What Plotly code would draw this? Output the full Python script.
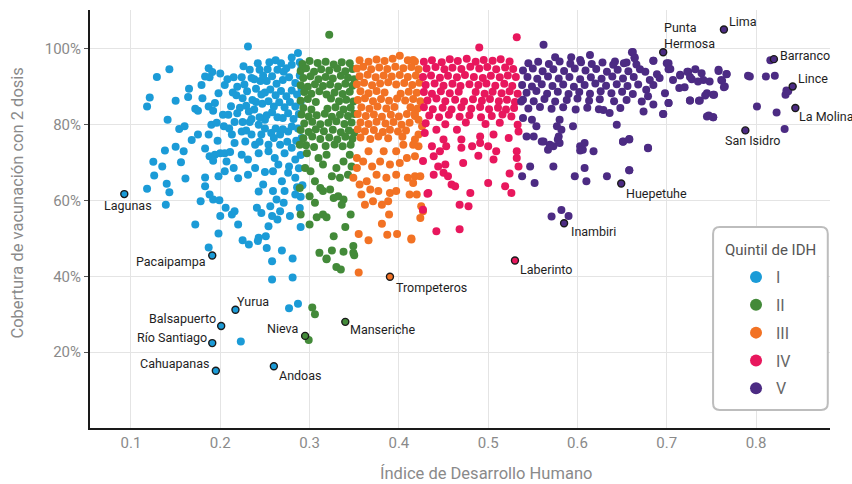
import plotly.graph_objects as go

# ---------------- data (IDH index, % vaccinated with 2 doses) ----------------
quintiles = ["I", "II", "III", "IV", "V"]
colors = ["#1b9bd7", "#438a39", "#f27224", "#e8175d", "#4c2b83"]

q1_points = [
    (0.231,100.6),(0.143,94.6),(0.129,92.6),(0.187,94.9),(0.191,93.9),(0.183,92.7),(0.188,92.5),
    (0.179,90.5),(0.165,89.5),(0.164,87.3),(0.180,87.0),(0.121,87.2),(0.118,84.8),(0.150,86.3),
    (0.172,84.2),(0.175,83.7),(0.187,84.8),(0.192,83.7),(0.194,85.7),(0.198,88.3),(0.205,90.5),
    (0.215,92.5),(0.224,92.5),(0.226,95.4),(0.242,96.2),(0.235,92.3),(0.244,94.5),(0.253,94.6),
    (0.264,94.5),(0.271,94.0),(0.280,97.7),(0.287,98.9),(0.274,94.9),(0.203,82.6),(0.209,82.6),
    (0.204,79.6),(0.216,80.7),(0.225,80.7),(0.233,80.7),(0.243,80.0),(0.250,81.3),(0.190,80.0),
    (0.141,81.3),(0.154,78.9),(0.160,79.6),(0.168,76.0),(0.175,77.4),(0.187,77.4),(0.197,75.8),
    (0.213,77.4),(0.216,75.2),(0.224,78.2),(0.235,77.4),(0.246,77.4),(0.257,77.8),(0.267,77.4),
    (0.276,78.2),(0.228,75.6),(0.239,74.7),(0.254,74.7),(0.267,74.7),(0.280,73.9),(0.150,74.2),
    (0.138,73.2),(0.159,73.0),(0.183,73.7),(0.188,71.7),(0.194,72.1),(0.200,72.5),(0.205,72.5),
    (0.211,72.8),(0.192,70.5),(0.207,70.3),(0.224,72.1),(0.231,70.8),(0.243,72.5),(0.254,73.0),
    (0.261,71.2),(0.272,72.5),(0.284,70.8),(0.125,70.2),(0.135,69.0),(0.156,70.1),(0.126,66.6),
    (0.161,65.8),(0.183,66.1),(0.198,66.4),(0.205,67.7),(0.215,68.6),(0.220,65.9),(0.231,66.8),
    (0.239,68.6),(0.250,67.5),(0.259,67.7),(0.269,65.1),(0.276,67.3),(0.284,66.0),(0.118,63.1),
    (0.140,64.4),(0.143,62.2),(0.139,58.9),(0.183,63.8),(0.188,61.6),(0.192,60.3),(0.199,60.1),
    (0.178,59.8),(0.206,58.1),(0.213,56.3),(0.216,57.2),(0.200,55.9),(0.172,53.7),(0.220,53.7),
    (0.243,62.4),(0.241,58.1),(0.246,56.7),(0.256,58.5),(0.263,60.3),(0.271,59.4),(0.267,57.2),
    (0.258,55.9),(0.264,55.0),(0.278,55.9),(0.254,53.2),(0.251,50.6),(0.243,50.2),(0.242,49.3),
    (0.198,51.3),(0.225,49.5),(0.232,48.4),(0.187,47.6),(0.252,47.5),(0.258,44.0),(0.269,46.8),
    (0.281,44.7),(0.258,39.2),(0.281,39.7),(0.248,64.2),(0.259,62.5),(0.284,61.6),(0.272,62.5),
    (0.252,91.5),(0.258,92.8),(0.263,90.8),(0.270,91.8),(0.277,92.5),(0.284,91.0),(0.289,93.0),
    (0.250,88.5),(0.256,89.3),(0.262,87.8),(0.268,88.9),(0.274,87.5),(0.280,89.0),(0.286,88.0),
    (0.291,89.5),(0.247,85.5),(0.254,86.2),(0.260,84.8),(0.266,85.9),(0.272,84.6),(0.278,86.0),
    (0.284,84.8),(0.290,86.0),(0.252,82.5),(0.258,83.3),(0.264,82.0),(0.270,81.8),(0.276,83.0),
    (0.282,81.5),(0.288,82.8),(0.262,79.0),(0.270,78.8),(0.280,79.5),(0.287,79.0),(0.291,76.5),
    (0.285,75.8),(0.275,75.5),(0.230,88.8),(0.236,86.5),(0.240,89.5),(0.229,85.0),(0.218,87.8),
    (0.222,84.5),(0.212,84.9),(0.245,91.5),(0.238,84.0),(0.244,82.0),(0.290,72.0),(0.288,68.5),
    (0.292,64.0),(0.289,58.0),(0.290,53.0),(0.289,96.5),(0.280,95.8),(0.291,95.0),(0.277,31.6),
    (0.287,32.8),(0.223,22.8),(0.200,93.5),(0.208,92.0),(0.219,90.0),(0.227,90.6),(0.233,94.5),
    (0.238,92.0),(0.248,93.0),(0.255,96.5),(0.262,97.0),(0.268,96.2),(0.214,88.5),(0.225,87.0),
    (0.232,83.5),(0.246,88.0),(0.240,86.0),(0.235,81.5),(0.219,83.0),(0.196,80.5),(0.210,79.0),
    (0.229,78.5),(0.250,79.0),(0.244,75.5),(0.260,76.5),(0.265,69.5),(0.277,69.0),(0.290,61.0),
    (0.286,63.5),
]

q2_points = [
    (0.322,103.7),
    (0.292,96.0),(0.300,96.8),(0.309,96.3),(0.318,96.6),(0.327,95.9),(0.336,96.5),(0.345,96.2),
    (0.290,94.2),(0.296,94.9),(0.305,94.0),(0.313,94.6),(0.322,94.3),(0.331,94.8),(0.340,94.1),(0.348,94.7),
    (0.293,92.3),(0.301,92.8),(0.310,92.0),(0.318,92.6),(0.326,92.2),(0.335,92.9),(0.343,92.4),(0.350,92.0),
    (0.290,90.4),(0.298,90.0),(0.306,90.7),(0.315,90.2),(0.323,90.6),(0.332,90.1),(0.340,90.8),(0.348,90.3),
    (0.294,88.6),(0.302,88.2),(0.311,88.8),(0.319,88.0),(0.328,88.5),(0.337,88.1),(0.345,88.7),
    (0.290,86.3),(0.298,86.8),(0.307,86.0),(0.324,86.9),(0.333,86.2),(0.341,86.6),(0.349,86.1),
    (0.293,84.4),(0.302,84.0),(0.320,84.2),(0.329,84.6),(0.338,84.0),(0.346,84.5),
    (0.291,82.7),(0.299,82.2),(0.308,82.5),(0.317,82.9),(0.325,82.1),(0.334,82.6),(0.343,82.3),(0.350,82.8),
    (0.294,80.3),(0.303,80.8),(0.312,80.1),(0.321,80.5),(0.330,80.9),(0.339,80.2),(0.347,80.6),
    (0.290,78.6),(0.299,78.1),(0.307,78.8),(0.316,78.3),(0.326,78.7),(0.335,78.0),(0.344,78.5),(0.350,77.9),
    (0.293,76.4),(0.303,76.9),(0.312,76.2),(0.322,76.6),(0.331,76.1),(0.340,76.8),(0.348,76.3),
    (0.296,74.6),(0.305,74.1),(0.318,74.4),(0.328,74.8),(0.337,74.3),(0.346,74.7),
    (0.289,74.7),(0.295,68.6),(0.289,63.3),(0.301,67.7),(0.306,65.1),(0.312,63.3),(0.300,61.1),
    (0.315,62.5),(0.306,59.4),(0.323,62.9),(0.327,60.7),(0.332,61.1),(0.338,60.3),(0.336,58.9),
    (0.325,66.4),(0.334,66.0),(0.343,66.8),(0.347,69.0),(0.315,69.5),(0.330,68.6),(0.338,70.3),
    (0.345,72.1),(0.319,72.1),(0.310,71.2),(0.297,72.5),(0.290,56.3),(0.300,53.7),(0.308,55.6),
    (0.315,56.3),(0.319,55.6),(0.346,56.3),(0.327,50.6),(0.340,53.0),(0.349,48.0),(0.349,46.2),
    (0.311,46.2),(0.325,46.8),(0.338,46.5),(0.319,44.5),(0.330,42.5),(0.335,41.8),(0.350,45.6),
    (0.319,44.7),(0.303,31.8),(0.306,30.0),(0.299,23.2),
]

q3_points = [
    (0.356,97.0),(0.366,96.6),(0.375,97.2),(0.384,96.8),(0.393,97.4),(0.401,98.2),(0.410,97.0),(0.418,96.7),
    (0.353,94.8),(0.360,95.3),(0.369,94.6),(0.378,95.1),(0.387,94.7),(0.396,95.3),(0.405,94.9),(0.414,95.2),(0.422,94.6),
    (0.356,92.8),(0.365,93.2),(0.374,92.5),(0.383,93.0),(0.392,92.7),(0.401,93.1),(0.410,92.6),(0.419,93.0),
    (0.353,90.7),(0.361,91.1),(0.370,90.4),(0.379,90.9),(0.388,91.2),(0.397,90.6),(0.406,91.0),(0.415,90.5),(0.423,91.1),
    (0.357,88.8),(0.366,88.3),(0.375,88.9),(0.384,88.5),(0.402,88.2),(0.411,88.7),(0.420,88.4),
    (0.354,86.5),(0.362,87.0),(0.371,86.2),(0.380,86.8),(0.389,86.3),(0.398,86.9),(0.407,86.4),(0.416,86.8),(0.424,86.2),
    (0.358,84.6),(0.367,84.2),(0.376,84.8),(0.386,84.3),(0.395,84.7),(0.413,84.6),(0.421,84.3),
    (0.354,82.8),(0.363,82.3),(0.372,82.7),(0.381,82.1),(0.391,82.6),(0.400,82.2),(0.409,82.8),(0.418,82.3),
    (0.357,80.6),(0.366,80.2),(0.375,80.8),(0.385,80.3),(0.394,80.7),(0.403,80.0),(0.412,80.5),
    (0.354,78.8),(0.362,78.3),(0.372,78.6),(0.382,78.1),(0.390,78.7),(0.399,78.2),(0.408,78.5),
    (0.357,76.6),(0.368,76.2),(0.377,76.9),(0.388,76.4),(0.404,76.8),
    (0.416,97.1),(0.418,83.1),(0.422,81.3),(0.426,79.6),(0.418,76.1),(0.422,74.3),(0.418,71.7),
    (0.418,66.4),(0.424,66.4),(0.416,64.6),(0.420,61.6),(0.425,58.5),(0.427,57.2),(0.424,55.4),
    (0.414,49.7),(0.349,66.0),(0.353,68.6),(0.356,64.2),(0.364,65.1),(0.358,61.6),(0.368,62.9),
    (0.362,58.9),(0.371,59.8),(0.377,62.5),(0.381,58.9),(0.390,62.0),(0.397,62.5),(0.388,59.8),
    (0.410,66.0),(0.412,61.6),(0.389,56.3),(0.381,53.9),(0.355,51.2),(0.366,49.5),(0.387,51.0),
    (0.398,51.2),(0.414,50.0),(0.355,41.0),(0.353,71.2),(0.360,70.3),(0.370,69.0),(0.379,70.3),
    (0.390,69.5),(0.401,69.9),(0.409,71.2),(0.375,66.8),(0.386,66.0),(0.397,66.8),(0.366,73.0),
    (0.383,73.0),(0.397,73.0),(0.405,74.7),(0.416,74.7),(0.422,77.4),
]

q4_points = [
    (0.532,103.1),(0.490,100.4),
    (0.428,96.6),(0.437,97.0),(0.448,96.5),(0.457,97.3),(0.466,96.8),(0.476,97.4),(0.486,96.6),(0.495,97.1),(0.505,96.9),(0.514,97.3),(0.524,96.7),
    (0.431,94.8),(0.441,95.2),(0.451,94.6),(0.460,95.0),(0.470,94.7),(0.480,95.3),(0.490,94.8),(0.499,95.2),(0.509,94.6),(0.519,95.1),(0.528,94.7),
    (0.427,92.6),(0.436,93.0),(0.446,92.4),(0.455,92.9),(0.465,92.5),(0.474,93.1),(0.484,92.6),(0.494,92.3),(0.503,92.9),(0.513,92.5),(0.522,93.0),(0.531,92.6),
    (0.430,90.5),(0.440,90.9),(0.450,90.3),(0.460,90.8),(0.469,90.2),(0.479,90.7),(0.489,90.5),(0.498,90.9),(0.508,90.3),(0.518,90.8),(0.527,90.2),
    (0.428,88.6),(0.437,88.2),(0.447,88.8),(0.457,88.3),(0.467,88.7),(0.486,88.6),(0.496,88.2),(0.505,88.7),(0.515,88.3),(0.524,88.8),(0.533,88.2),
    (0.432,86.4),(0.442,86.9),(0.452,86.2),(0.463,86.6),(0.473,86.1),(0.483,86.7),(0.493,86.3),(0.502,86.8),(0.512,86.2),(0.521,86.6),(0.530,86.0),
    (0.428,84.6),(0.438,84.1),(0.449,84.5),(0.459,84.0),(0.470,84.6),(0.481,84.2),(0.491,84.7),(0.501,84.1),(0.511,84.5),(0.520,84.0),(0.529,84.4),
    (0.434,82.4),(0.445,82.0),(0.456,82.6),(0.468,82.1),(0.479,82.5),(0.492,82.0),(0.504,82.3),(0.516,82.7),(0.526,82.2),
    (0.430,80.4),(0.452,80.1),(0.475,80.6),(0.497,80.2),(0.513,80.5),(0.533,80.0),
    (0.429,77.8),(0.437,74.3),(0.439,71.7),(0.446,73.0),(0.427,70.4),(0.450,76.1),(0.453,74.3),
    (0.442,78.7),(0.465,78.7),(0.470,76.1),(0.482,74.3),(0.491,76.9),(0.491,75.2),(0.506,77.4),
    (0.500,74.3),(0.509,73.0),(0.523,76.5),(0.532,73.0),(0.532,71.2),(0.534,78.2),(0.470,73.9),
    (0.489,71.8),(0.506,70.8),(0.444,69.0),(0.452,69.5),(0.450,67.3),(0.439,66.8),(0.455,66.4),
    (0.459,64.2),(0.463,63.8),(0.472,69.9),(0.500,64.6),(0.519,63.8),(0.524,67.1),(0.534,69.0),
    (0.433,62.0),(0.480,62.0),(0.526,62.0),(0.468,58.9),(0.478,58.5),(0.442,51.9),(0.468,52.4),
    (0.427,57.6),(0.432,61.8),
]

q5_points = [
    (0.562,101.1),(0.575,97.8),(0.593,97.8),(0.614,98.4),(0.603,97.1),(0.642,96.7),(0.655,96.4),
    (0.662,99.2),(0.664,97.8),(0.685,96.9),
    (0.545,96.2),(0.556,96.6),(0.568,96.0),(0.580,96.7),(0.592,96.1),(0.604,96.5),(0.616,96.0),(0.628,96.4),(0.640,95.8),(0.652,96.2),(0.666,95.9),
    (0.539,94.3),(0.550,94.8),(0.561,94.1),(0.573,94.6),(0.585,94.2),(0.597,94.8),(0.609,94.3),(0.621,94.7),(0.633,94.0),(0.645,94.5),(0.657,94.1),(0.670,94.6),
    (0.544,92.6),(0.555,92.1),(0.567,92.7),(0.579,92.2),(0.591,92.6),(0.603,92.0),(0.615,92.5),(0.627,92.1),(0.639,92.7),(0.651,92.2),(0.663,92.6),
    (0.538,90.5),(0.549,90.1),(0.560,90.7),(0.572,90.2),(0.584,90.6),(0.596,90.0),(0.608,90.5),(0.620,90.9),(0.632,90.3),(0.644,90.7),(0.656,90.2),(0.668,90.6),
    (0.543,88.4),(0.554,88.9),(0.566,88.2),(0.578,88.7),(0.590,88.1),(0.602,88.6),(0.614,88.2),(0.626,88.8),(0.638,88.3),(0.650,88.7),(0.662,88.1),
    (0.539,86.6),(0.551,86.2),(0.563,86.8),(0.575,86.1),(0.588,86.5),(0.600,86.9),(0.613,86.3),(0.625,86.7),(0.641,86.2),(0.655,86.5),
    (0.545,84.3),(0.558,84.7),(0.571,84.2),(0.584,84.6),(0.598,84.0),(0.611,84.5),(0.624,84.1),(0.648,84.4),
    (0.700,96.2),(0.702,94.6),(0.707,91.8),(0.715,93.2),(0.724,94.0),(0.732,94.6),(0.739,93.6),
    (0.728,92.0),(0.741,91.8),(0.748,91.4),(0.758,94.5),(0.761,91.8),(0.767,93.3),(0.765,90.1),
    (0.752,87.9),(0.745,88.3),(0.737,86.4),(0.726,86.4),(0.747,82.4),(0.752,82.0),(0.702,85.7),
    (0.696,82.8),(0.698,88.3),(0.685,90.5),(0.692,92.3),(0.689,93.3),(0.681,91.8),(0.676,94.0),
    (0.677,89.2),(0.679,87.5),(0.672,86.1),(0.685,85.3),(0.674,83.5),(0.791,92.9),
    (0.537,86.1),(0.539,81.8),(0.549,81.3),(0.554,79.6),(0.543,76.9),(0.551,76.9),(0.562,75.6),
    (0.573,74.3),(0.567,73.4),(0.579,76.9),(0.582,78.7),(0.580,75.2),(0.580,81.3),(0.595,79.6),
    (0.603,74.3),(0.608,75.2),(0.603,73.2),(0.618,73.0),(0.644,80.0),(0.651,75.6),(0.658,76.2),
    (0.679,73.9),(0.629,83.9),(0.636,83.1),(0.573,69.0),(0.547,69.0),(0.538,66.4),(0.552,64.6),
    (0.597,66.4),(0.608,68.6),(0.610,65.1),(0.633,66.4),(0.658,68.0),(0.560,75.6),(0.569,74.7),
    (0.578,76.1),(0.577,79.6),(0.606,73.4),
    (0.571,55.8),(0.582,57.5),(0.590,55.9),
    (0.816,97.0),(0.834,89.0),(0.833,87.9),(0.836,88.8),(0.793,92.7),(0.811,92.7),(0.821,92.9),
    (0.801,84.8),(0.823,83.2),(0.832,78.9),(0.758,94.2),(0.767,93.4),(0.762,91.6),(0.764,89.9),
    (0.745,82.2),(0.752,82.0),(0.679,73.8),(0.658,68.0),(0.651,75.5),(0.658,76.1),(0.726,86.4),
    (0.736,86.3),(0.743,87.7),(0.753,87.9),(0.735,91.4),(0.661,99.1),(0.664,97.5),(0.685,96.9),
    (0.702,96.2),(0.704,94.7),(0.715,93.0),(0.723,94.0),(0.726,92.6),(0.696,82.8),(0.702,85.7),
    (0.714,89.7),(0.720,89.9),
]

# labelled districts
label_names = ["Lagunas", "Pacaipampa", "Yurua", "Balsapuerto", "Río Santiago", "Cahuapanas",
               "Andoas", "Nieva", "Manseriche", "Trompeteros", "Laberinto", "Inambiri",
               "Huepetuhe", "San Isidro", "La Molina", "Lince", "Barranco", "Lima",
               "Punta<br>Hermosa"]
label_x = [0.0925, 0.191, 0.217, 0.201, 0.191, 0.195, 0.260, 0.295, 0.340, 0.390, 0.530, 0.585,
           0.649, 0.788, 0.844, 0.841, 0.820, 0.764, 0.696]
label_y = [61.7, 45.5, 31.2, 26.9, 22.4, 15.1, 16.3, 24.3, 28.0, 39.9, 44.2, 54.0,
           64.5, 78.5, 84.4, 90.1, 97.3, 105.1, 99.1]
label_quintile = [0, 0, 0, 0, 0, 0, 0, 1, 1, 2, 3, 4, 4, 4, 4, 4, 4, 4, 4]

x_ticks = [0.1, 0.2, 0.3, 0.4, 0.5, 0.6, 0.7, 0.8]
y_ticks = [20, 40, 60, 80, 100]
legend_title = "Quintil de IDH"

# label placement styles: (xanchor, xshift, yshift)
label_style = [("center", 4, -11), ("right", -4, -6), ("left", 0, 8), ("right", -3, 8),
               ("right", -3, 6), ("right", -5, 7), ("left", 3, -9), ("right", -5, 7),
               ("left", 3, -8), ("left", 4, -11), ("left", 3, -9), ("left", 5, -8),
               ("left", 3, -10), ("center", 7, -10), ("left", 2, -8), ("left", 3, 8),
               ("left", 4, 4), ("left", 3, 8), ("left", -1, 17)]

# ---------------- figure ----------------
fig = go.Figure()
groups = [q1_points, q2_points, q3_points, q4_points, q5_points]
for i, (name, pts) in enumerate(zip(quintiles, groups)):
    fig.add_trace(go.Scatter(
        x=[p[0] for p in pts], y=[p[1] for p in pts], mode="markers", name=name,
        legendgroup=name,
        marker=dict(size=8, color=colors[i], line=dict(width=0)),
        hoverinfo="skip",
    ))

fig.add_trace(go.Scatter(
    x=label_x, y=label_y, mode="markers", showlegend=False,
    marker=dict(size=7, color=[colors[q] for q in label_quintile],
                line=dict(width=1.4, color="#1a1a1a")),
    hovertext=label_names, hoverinfo="text",
))

for name, xv, yv, (xa, xs, ys) in zip(label_names, label_x, label_y, label_style):
    fig.add_annotation(x=xv, y=yv, text=name, showarrow=False, xanchor=xa, yanchor="middle",
                       xshift=xs, yshift=ys, align="left",
                       font=dict(family="Roboto", size=12.5, color="#1e1e1e"))

# axis titles
fig.add_annotation(xref="paper", yref="paper", x=0.535, y=-0.108, yanchor="middle",
                   text="Índice de Desarrollo Humano", showarrow=False,
                   font=dict(family="Roboto", size=16.5, color="#8a8a8a"))
fig.add_annotation(xref="paper", yref="paper", x=-0.098, y=0.538, xanchor="center",
                   text="Cobertura de vacunación con 2 dosis", showarrow=False, textangle=-90,
                   font=dict(family="Roboto", size=16.5, color="#8a8a8a"))

# rounded legend box + legend title
x0, x1, y0, y1 = 0.842, 0.997, 0.043, 0.481
rx, ry = 0.009, 0.016
path = (f"M {x0+rx},{y0} L {x1-rx},{y0} Q {x1},{y0} {x1},{y0+ry} L {x1},{y1-ry} "
        f"Q {x1},{y1} {x1-rx},{y1} L {x0+rx},{y1} Q {x0},{y1} {x0},{y1-ry} "
        f"L {x0},{y0+ry} Q {x0},{y0} {x0+rx},{y0} Z")
fig.add_shape(type="path", xref="paper", yref="paper", path=path,
              line=dict(color="#bdbdbd", width=2), fillcolor="white", layer="above")
fig.add_annotation(xref="paper", yref="paper", x=0.919, y=0.426, xanchor="center",
                   yanchor="middle", text=legend_title, showarrow=False,
                   font=dict(family="Roboto", size=15, color="#555"))

fig.update_layout(
    width=852, height=484,
    margin=dict(l=90, r=22, t=10, b=56),
    paper_bgcolor="white", plot_bgcolor="white",
    font=dict(family="Roboto", color="#888"),
    showlegend=True,
    legend=dict(
        x=0.873, y=0.4016, xanchor="left", yanchor="top",
        bgcolor="rgba(0,0,0,0)", borderwidth=0,
        font=dict(family="Roboto", size=16, color="#666"),
        tracegroupgap=4, itemsizing="constant",
    ),
    xaxis=dict(range=[0.0541, 0.8828], tickvals=x_ticks, ticktext=[str(v) for v in x_ticks],
               showgrid=True, gridcolor="#e4e4e4", gridwidth=1.2, zeroline=False,
               showline=True, linecolor="#1a1a1a", linewidth=2, ticks="",
               tickfont=dict(family="Roboto", size=15, color="#8a8a8a")),
    yaxis=dict(range=[0, 110.26], tickvals=y_ticks, ticktext=[f"{v}%" for v in y_ticks],
               showgrid=True, gridcolor="#e4e4e4", gridwidth=1.2, zeroline=False,
               showline=True, linecolor="#1a1a1a", linewidth=2, ticks="outside",
               ticklen=4, tickcolor="#555", tickwidth=1,
               tickfont=dict(family="Roboto", size=15, color="#8a8a8a")),
)

fig.write_html("out.html", config={"displayModeBar": False},
               post_script="document.body.style.margin='0';document.body.style.overflow='hidden';")
